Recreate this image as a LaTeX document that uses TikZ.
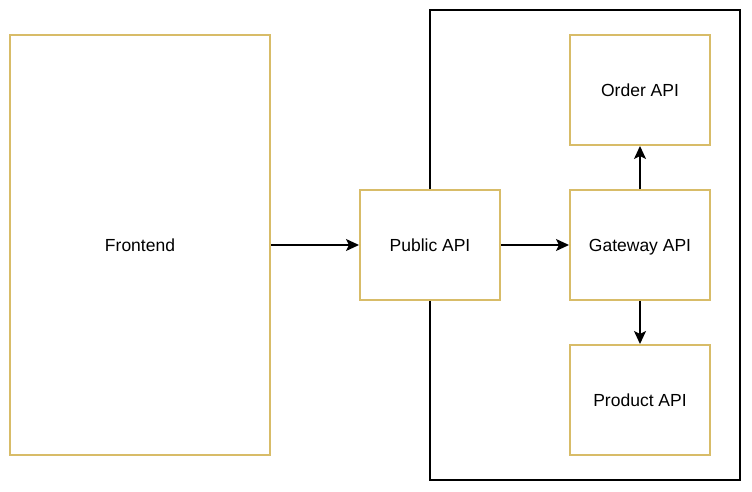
\documentclass[tikz,border=0pt]{standalone}
\usepackage{fontspec}
\setmainfont{Liberation Sans}
\usetikzlibrary{arrows.meta}
\definecolor{goldline}{HTML}{D8BC68}
\begin{document}
\begin{tikzpicture}[x=1pt,y=-1pt,
  box/.style={draw=goldline,line width=2pt,fill=white,inner sep=0pt,
    text height=12.6pt,text depth=0pt,
    font=\fontsize{17.5}{21}\selectfont},
  link/.style={draw=black,line width=1.6pt,-{Stealth[length=13pt,width=12pt,inset=3pt]}}]
\useasboundingbox (0,0) rectangle (752,492);
% surrounding boundary
\draw[line width=1.3pt] (430,10) rectangle (740,480);
\node[box,minimum width=260pt,minimum height=420pt] (fe) at (140,245) {Frontend};
\node[box,minimum width=140pt,minimum height=110pt] (pub) at (430,245) {Public API};
\node[box,minimum width=140pt,minimum height=110pt] (ord) at (640,90) {Order API};
\node[box,minimum width=140pt,minimum height=110pt] (gw) at (640,245) {Gateway API};
\node[box,minimum width=140pt,minimum height=110pt] (prod) at (640,400) {Product API};
\draw[link] (fe) -- (pub);
\draw[link] (pub) -- (gw);
\draw[link] (gw) -- (ord);
\draw[link] (gw) -- (prod);
\end{tikzpicture}
\end{document}
